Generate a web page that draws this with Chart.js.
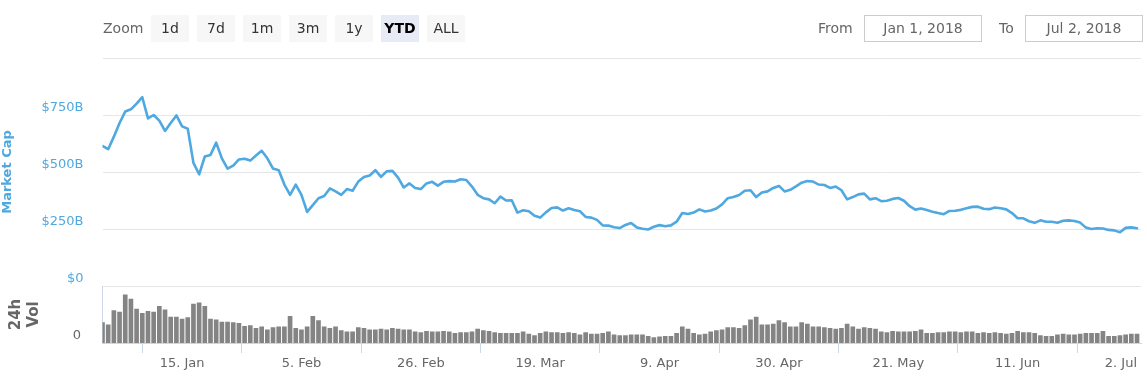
<!DOCTYPE html>
<html><head><meta charset="utf-8">
<script src="https://cdn.jsdelivr.net/npm/chart.js@4.4.1/dist/chart.umd.min.js"></script>
<style>
html,body{margin:0;padding:0;background:#fff;width:1147px;height:377px;overflow:hidden;font-family:"DejaVu Sans",sans-serif;}
#c{position:absolute;left:0;top:0;}
.lbl{position:absolute;top:15px;height:27px;line-height:27px;font-size:14px;color:#666;}
.btn{position:absolute;top:15px;width:38px;height:27px;line-height:27px;text-align:center;font-size:14px;color:#333;background:#f7f7f7;}
.btn.sel{background:#e6ebf5;color:#000;font-weight:bold;}
.inp{position:absolute;top:15px;width:116px;height:25px;line-height:25px;border:1px solid #ccc;text-align:center;font-size:14px;color:#666;}
</style></head>
<body>
<canvas id="c" width="1147" height="377"></canvas>
<div class="lbl" style="left:103px">Zoom</div>
<div class="btn" style="left:151px">1d</div>
<div class="btn" style="left:197px">7d</div>
<div class="btn" style="left:243px">1m</div>
<div class="btn" style="left:289px">3m</div>
<div class="btn" style="left:335px">1y</div>
<div class="btn sel" style="left:381px">YTD</div>
<div class="btn" style="left:427px">ALL</div>
<div class="lbl" style="left:818px">From</div>
<div class="inp" style="left:864px">Jan 1, 2018</div>
<div class="lbl" style="left:999px">To</div>
<div class="inp" style="left:1025px">Jul 2, 2018</div>
<script>
// Market cap in $B, one value per day starting 1 Jan 2018
const marketCap = [
614,600,655,715,765,775,800,828,735,750,
725,680,715,748,700,690,540,490,568,575,
629,560,515,528,555,558,550,572,593,560,
515,508,445,400,445,400,325,355,385,395,
428,415,400,425,418,458,478,485,508,479,
503,505,475,432,450,430,425,450,457,440,
457,460,458,468,465,436,400,385,380,363,
392,375,376,322,332,328,308,300,323,342,
345,331,341,333,328,303,300,290,266,265,
258,254,268,276,257,251,248,260,267,262,
266,282,320,316,322,336,327,331,340,358,
385,390,399,418,420,390,410,415,430,439,
415,422,437,453,460,458,445,443,430,436,
420,380,390,402,405,380,385,372,374,382,
386,374,350,335,340,333,326,320,315,329,
330,334,341,347,348,339,337,344,341,336,
320,297,297,284,277,288,282,282,277,286,
288,285,278,256,250,253,252,246,244,236,
255,257,253];
// 24h volume in $B, one value per day
const volume = [
29,26,46,44,68,62,48,42,45,44,
52,47,37,37,34,36,55,57,52,34,
33,30,30,29,28,24,25,21,23,19,
22,23,23,38,21,19,23,38,32,23,
21,23,18,16,16,22,21,19,19,20,
19,21,20,19,19,16,15,17,16,16,
17,16,14,15,15,16,20,18,17,15,
14,14,14,14,16,13,11,14,16,15,
15,14,15,14,12,15,13,13,14,16,
12,11,11,12,12,12,10,8,9,10,
10,14,23,20,14,12,13,16,18,19,
22,22,21,25,33,37,26,26,27,32,
29,23,23,29,27,23,23,22,21,20,
21,27,23,20,22,21,20,16,15,17,
16,16,16,17,19,14,14,15,15,16,
16,15,16,16,14,15,14,15,14,13,
14,17,15,15,14,11,10,10,12,13,
12,12,13,14,14,14,17,10,10,11,
12,13,13];
const tickDays = [0,14,35,56,77,98,119,140,161,182];
const tickLabels = ['','15. Jan','5. Feb','26. Feb','19. Mar','9. Apr','30. Apr','21. May','11. Jun','2. Jul'];
const capTicks = [0,250,500,750,1000];
const capLabels = ['$0','$250B','$500B','$750B',''];

const capColor = '#4fa8e0';
new Chart(document.getElementById('c'), {
  type: 'line',
  data: {
    datasets: [
      {type:'line', data: marketCap.map((v,i)=>({x:i,y:v})), yAxisID:'y', borderColor:capColor, borderWidth:2.6, pointRadius:0, tension:0, fill:false, borderJoinStyle:'round', borderCapStyle:'round'},
      {type:'bar', data: volume.map((v,i)=>({x:i,y:v})), yAxisID:'y2', backgroundColor:'#848484', borderWidth:0, barPercentage:1, categoryPercentage:0.82}
    ]
  },
  options: {
    responsive:false, animation:false,
    layout:{padding:{top:58,left:0,right:6,bottom:0}},
    plugins:{legend:{display:false}, tooltip:{enabled:false}},
    scales:{
      x:{type:'linear', min:0, max:182.7, offset:false,
        afterBuildTicks: a => { a.ticks = tickDays.map(v=>({value:v})); },
        afterFit: a => { a.height = 34; },
        ticks:{autoSkip:false, maxRotation:0, align:'inner', color:'#666', font:{family:'DejaVu Sans', size:13}, padding:3,
          callback: v => tickLabels[tickDays.indexOf(v)]},
        grid:{drawOnChartArea:false, drawTicks:true, tickLength:10, color: c => (c.tick && c.tick.value===0) ? 'rgba(0,0,0,0)' : '#ccd6eb'},
        border:{color:'#ccd6eb'}
      },
      y2:{type:'linear', position:'left', stack:'main', stackWeight:1, weight:1, min:0, max:80,
        afterBuildTicks: a => { a.ticks = [{value:0},{value:80}]; },
        afterFit: a => { a.width = 102.5; },
        ticks:{color:'#666', font:{family:'DejaVu Sans', size:13}, padding:21.5, labelOffset:-7, callback: v => v===0 ? '0' : ''},
        grid:{display:false, drawTicks:false},
        border:{display:true, color:'#ccd6eb'},
        title:{display:true, text:['24h','Vol'], color:'#666', font:{family:'DejaVu Sans', size:15, weight:'bold', lineHeight:1.17}, padding:{top:7.5,bottom:0}}
      },
      y:{type:'linear', position:'left', stack:'main', stackWeight:4, weight:2, min:0, max:1000,
        afterBuildTicks: a => { a.ticks = capTicks.map(v=>({value:v})); },
        afterFit: a => { a.width = 102.5; },
        ticks:{color:capColor, font:{family:'DejaVu Sans', size:13}, padding:19, labelOffset:-7, callback: v => capLabels[capTicks.indexOf(v)]},
        grid:{color:'#e6e6e6', drawTicks:false},
        border:{display:false},
        title:{display:true, text:'Market Cap', color:capColor, font:{family:'DejaVu Sans', size:13, weight:'bold', lineHeight:1.2}, padding:{top:0,bottom:0}}
      }
    }
  }
});
</script>
</body></html>
